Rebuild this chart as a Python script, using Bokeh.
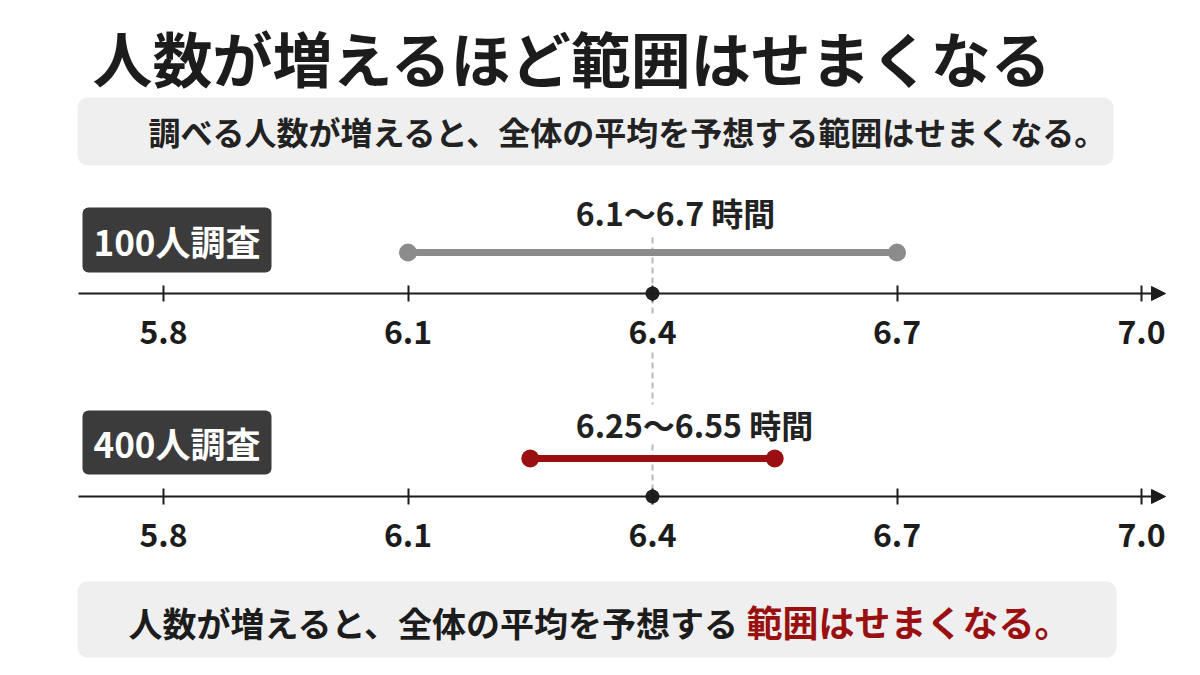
from bokeh.plotting import figure
from bokeh.models import Range1d, LinearAxis, FixedTicker, PrintfTickFormatter, Arrow, NormalHead
from bokeh.core.properties import value
from bokeh.embed import file_html
from bokeh.resources import INLINE

# ---------------- data ----------------
title_text = "人数が増えるほど範囲はせまくなる"
subtitle_text = "調べる人数が増えると、全体の平均を予想する範囲はせまくなる。"
footer_black = "人数が増えると、全体の平均を予想する"
footer_red = "範囲はせまくなる。"
surveys = ["100人調査", "400人調査"]
low = [6.1, 6.25]
high = [6.7, 6.55]
means = [6.4, 6.4]
range_labels = ["6.1～6.7 時間", "6.25～6.55 時間"]
tick_values = [5.8, 6.1, 6.4, 6.7, 7.0]

# ---------------- layout / style ----------------
FONT = value("Noto Sans CJK JP")
DARK = "#1c1c1c"
RED = "#9a0f10"
GRAY = "#8c8c8c"
BOXBG = "#efefef"
W, H = 1184, 659

row_line_y = [252, 458]
row_axis_y = [293, 496]
row_text_y = [211, 423]
row_text_x = [675, 694]
box_top = [207, 410]
box_bot = [272, 474]

p = figure(width=W, height=H,
           x_range=Range1d(5.6, 7.05276), y_range=Range1d(H, 0),
           x_axis_location=None, y_axis_location=None,
           toolbar_location=None, output_backend="svg",
           min_border=0, outline_line_color=None,
           background_fill_color="white", border_fill_color="white")
p.extra_x_ranges = {"px": Range1d(0, W)}
p.grid.visible = False

# title
p.text(x=[92], y=[56], text=[title_text], x_range_name="px",
       text_font=FONT, text_font_style="bold", text_font_size="60px",
       text_color=DARK, text_align="left", text_baseline="middle")

# subtitle box
p.quad(left=[77], right=[1113], top=[97], bottom=[165], x_range_name="px",
       fill_color=BOXBG, line_color=None, border_radius=10)
p.text(x=[148], y=[130], text=[subtitle_text], x_range_name="px",
       text_font=FONT, text_font_style="bold", text_font_size="32px",
       text_color="#222222", text_align="left", text_baseline="middle")

# dashed mean line (drawn below everything)
p.segment(x0=[means[0]] * 3, x1=[means[0]] * 3, y0=[237, 352, 444], y1=[316, 404, 495],
          line_color="#b8b8b8", line_width=2, line_dash="6 4")

# survey label boxes
p.quad(left=[82, 82], right=[271, 271], top=box_top, bottom=box_bot, x_range_name="px",
       fill_color="#3b3b3b", line_color=None, border_radius=6)
p.text(x=[176.5, 176.5], y=[(a + b) / 2 for a, b in zip(box_top, box_bot)], text=surveys,
       x_range_name="px", text_font=FONT, text_font_style="bold", text_font_size="35px",
       text_color="white", text_align="center", text_baseline="middle")

# range labels
p.text(x=row_text_x, y=row_text_y, text=range_labels, x_range_name="px",
       text_font=FONT, text_font_style="bold", text_font_size="32px",
       text_color="#222222", text_align="center", text_baseline="middle")

# number lines with arrows
for yv in row_axis_y:
    p.add_layout(Arrow(end=NormalHead(size=14, fill_color=DARK, line_color=DARK),
                       x_start=78, y_start=yv, x_end=1165, y_end=yv, x_range_name="px",
                       line_color=DARK, line_width=2))
    ax = LinearAxis(fixed_location=yv, ticker=FixedTicker(ticks=tick_values),
                    formatter=PrintfTickFormatter(format="%.1f"),
                    axis_line_color=None,
                    major_tick_in=8, major_tick_out=8,
                    major_tick_line_width=2, major_tick_line_color=DARK,
                    minor_tick_line_color=None,
                    major_label_text_font="Noto Sans CJK JP",
                    major_label_text_font_style="bold",
                    major_label_text_font_size="32px",
                    major_label_text_color=DARK,
                    major_label_standoff=18)
    p.add_layout(ax, "below")

# intervals
colors = [GRAY, RED]
p.segment(x0=low, x1=high, y0=row_line_y, y1=row_line_y, line_color=colors, line_width=7)
p.scatter(x=low + high, y=row_line_y + row_line_y, size=18,
          fill_color=colors + colors, line_color=None)
# means on axis
p.scatter(x=means, y=row_axis_y, size=14, fill_color="#222222", line_color=None)

# footer
p.quad(left=[77], right=[1116], top=[581], bottom=[657], x_range_name="px",
       fill_color=BOXBG, line_color=None, border_radius=10)
p.text(x=[128], y=[622], text=[footer_black], x_range_name="px",
       text_font=FONT, text_font_style="bold", text_font_size="34px",
       text_color=DARK, text_align="left", text_baseline="middle")
p.text(x=[746], y=[620], text=[footer_red], x_range_name="px",
       text_font=FONT, text_font_style="bold", text_font_size="36px",
       text_color=RED, text_align="left", text_baseline="middle")

open("out.html", "w").write(file_html(p, INLINE))
